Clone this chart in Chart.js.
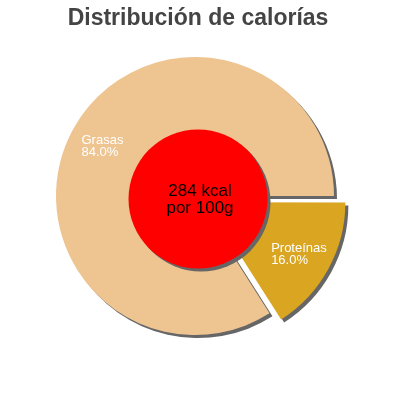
<!DOCTYPE html>
<html>
<head>
<meta charset="utf-8">
<script src="https://cdn.jsdelivr.net/npm/chart.js@4/dist/chart.umd.min.js"></script>
<style>
  html, body { margin: 0; padding: 0; background: #fff; }
  #wrap { width: 400px; height: 400px; }
</style>
</head>
<body>
<div id="wrap"><canvas id="calChart" width="400" height="400"></canvas></div>
<script>
const categories = ['Grasas', 'Proteínas'];
const values = [84, 16];
const sliceColors = ['#EEC591', '#DAA520'];
const slicePull = [0, 13]; // pixels a slice is pulled out
const centerLines = ['284 kcal', 'por 100g'];
const chartTitle = 'Distribución de calorías';

const FONT = '"Liberation Sans", Arial, sans-serif';
const total = values.reduce((a, b) => a + b, 0);

// v4 moves an arc by offset/4 and also grows its radius a little,
// so ask for 4x and take the extra radius back
const pullPlugin = {
    id: 'pull',
    afterDatasetUpdate(chart) {
        const meta = chart.getDatasetMeta(0);
        meta.data.forEach((arc, i) => {
            const fix = 1 - Math.sin(Math.min(Math.PI, arc.circumference || 0));
            arc.outerRadius -= slicePull[i] * fix;
        });
    }
};

// grey drop shadow under the slices
const shadowPlugin = {
    id: 'sliceShadow',
    beforeDatasetsDraw(chart) {
        const ctx = chart.ctx;
        ctx.save();
        ctx.shadowColor = '#666666';
        ctx.shadowOffsetX = 3;
        ctx.shadowOffsetY = 3;
        ctx.shadowBlur = 0;
    },
    afterDatasetsDraw(chart) {
        chart.ctx.restore();
    }
};

const overlayPlugin = {
    id: 'overlay',
    afterDraw(chart) {
        const ctx = chart.ctx;
        const meta = chart.getDatasetMeta(0);
        const first = meta.data[0];
        const cx = first.x;
        const cy = first.y;
        const R = first.outerRadius;

        // title
        ctx.save();
        ctx.fillStyle = '#444444';
        ctx.font = 'bold 23px ' + FONT;
        ctx.textAlign = 'center';
        ctx.textBaseline = 'alphabetic';
        ctx.fillText(chartTitle, chart.width / 2 - 2, 25);
        ctx.restore();

        // slice labels, left aligned block centred on the slice
        ctx.save();
        ctx.fillStyle = '#ffffff';
        ctx.font = '13px ' + FONT;
        ctx.textAlign = 'left';
        ctx.textBaseline = 'alphabetic';
        meta.data.forEach((arc, i) => {
            const mid = (arc.startAngle + arc.endAngle) / 2;
            const r = R * 0.76 + slicePull[i];
            const pct = (values[i] / total * 100).toFixed(1) + '%';
            const w = Math.max(ctx.measureText(categories[i]).width, ctx.measureText(pct).width);
            const x = cx + Math.cos(mid) * r - w / 2;
            const y = cy + Math.sin(mid) * r;
            ctx.fillText(categories[i], x, y - 1);
            ctx.fillText(pct, x, y + 11);
        });
        ctx.restore();

        // centre disc
        ctx.save();
        ctx.shadowColor = '#666666';
        ctx.shadowOffsetX = 3;
        ctx.shadowOffsetY = 3;
        ctx.beginPath();
        ctx.arc(cx + 3, cy + 3, R * 0.5, 0, Math.PI * 2);
        ctx.fillStyle = '#ff0000';
        ctx.fill();
        ctx.restore();

        ctx.save();
        ctx.fillStyle = '#000000';
        ctx.font = '17px ' + FONT;
        ctx.textAlign = 'center';
        ctx.textBaseline = 'alphabetic';
        ctx.fillText(centerLines[0], cx + 5, cy);
        ctx.fillText(centerLines[1], cx + 5, cy + 17);
        ctx.restore();
    }
};

new Chart(document.getElementById('calChart'), {
    type: 'pie',
    data: {
        labels: categories,
        datasets: [{
            data: values,
            backgroundColor: sliceColors,
            borderWidth: 0,
            offset: slicePull.map(p => p * 4)
        }]
    },
    options: {
        responsive: false,
        devicePixelRatio: 1,
        animation: false,
        events: [],
        radius: 139,
        rotation: 90 + 360 * values[1] / total,
        layout: { padding: { left: 0, right: 10, top: 30, bottom: 38 } },
        plugins: {
            legend: { display: false },
            tooltip: { enabled: false },
            title: { display: false }
        }
    },
    plugins: [pullPlugin, shadowPlugin, overlayPlugin]
});
</script>
</body>
</html>
